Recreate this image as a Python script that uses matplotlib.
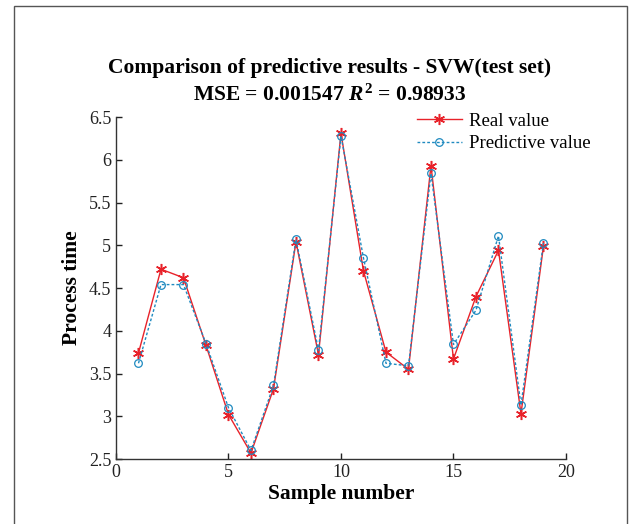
import matplotlib
matplotlib.use("Agg")
import matplotlib.pyplot as plt
from matplotlib.patches import Rectangle

# sample index and process times
samples = list(range(1, 20))
real_value = [3.74, 4.72, 4.62, 3.83, 3.02, 2.57, 3.32, 5.04, 3.72, 6.31,
              4.70, 3.75, 3.55, 5.93, 3.67, 4.40, 4.94, 3.03, 4.99]
pred_value = [3.62, 4.54, 4.54, 3.85, 3.10, 2.60, 3.36, 5.07, 3.77, 6.28,
              4.85, 3.62, 3.59, 5.84, 3.84, 4.24, 5.11, 3.13, 5.03]
x_ticks = [0, 5, 10, 15, 20]
y_ticks = [2.5, 3, 3.5, 4, 4.5, 5, 5.5, 6, 6.5]
y_tick_labels = ["2.5", "3", "3.5", "4", "4.5", "5", "5.5", "6", "6.5"]

plt.rcParams["font.family"] = ["Liberation Serif", "DejaVu Serif"]
plt.rcParams["mathtext.fontset"] = "custom"
plt.rcParams["mathtext.it"] = "Liberation Serif:italic:bold"
plt.rcParams["mathtext.rm"] = "Liberation Serif:bold"

fig = plt.figure(figsize=(6.29, 5.24), dpi=100)
# outer frame around the figure
fig.patches.append(Rectangle((0.022, -0.05), 0.975, 1.038, transform=fig.transFigure,
                             fill=False, edgecolor="#555555", linewidth=1.0))

ax = fig.add_axes([0.1844, 0.124, 0.7154, 0.6527])
ax.plot(samples, real_value, color="#e8222a", linewidth=1.0, marker=(6, 2, 0),
        markersize=8, markeredgewidth=1.1, label="Real value")
ax.plot(samples, pred_value, color="#1f8ac0", linewidth=1.0, linestyle=(0, (2, 1.5)),
        marker="o", markersize=5.5, markerfacecolor="none", markeredgewidth=0.9,
        label="Predictive value")

ax.set_xlim(0, 20)
ax.set_ylim(2.5, 6.5)
ax.set_xticks(x_ticks)
ax.set_yticks(y_ticks)
ax.set_yticklabels(y_tick_labels)
ax.tick_params(direction="in", labelsize=13, length=4, width=1, colors="#222222")
for side in ("top", "right"):
    ax.spines[side].set_visible(False)
for side in ("left", "bottom"):
    ax.spines[side].set_color("#333333")
    ax.spines[side].set_linewidth(1.0)

ax.set_xlabel("Sample number", fontsize=15.5, fontweight="bold", labelpad=2)
ax.set_ylabel("Process time", fontsize=15.5, fontweight="bold", labelpad=5)
ax.set_title("Comparison of predictive results - SVW(test set)\n"
             "MSE = 0.001547 $R^{2}$ = 0.98933",
             fontsize=15.5, fontweight="bold", pad=12, linespacing=1.35, x=0.475)

ax.legend(loc="upper right", frameon=False, fontsize=13.5, handlelength=2.4,
          handletextpad=0.4, borderaxespad=0.0, labelspacing=0.3,
          bbox_to_anchor=(1.072, 1.035))

fig.savefig("out.png", dpi=100)
